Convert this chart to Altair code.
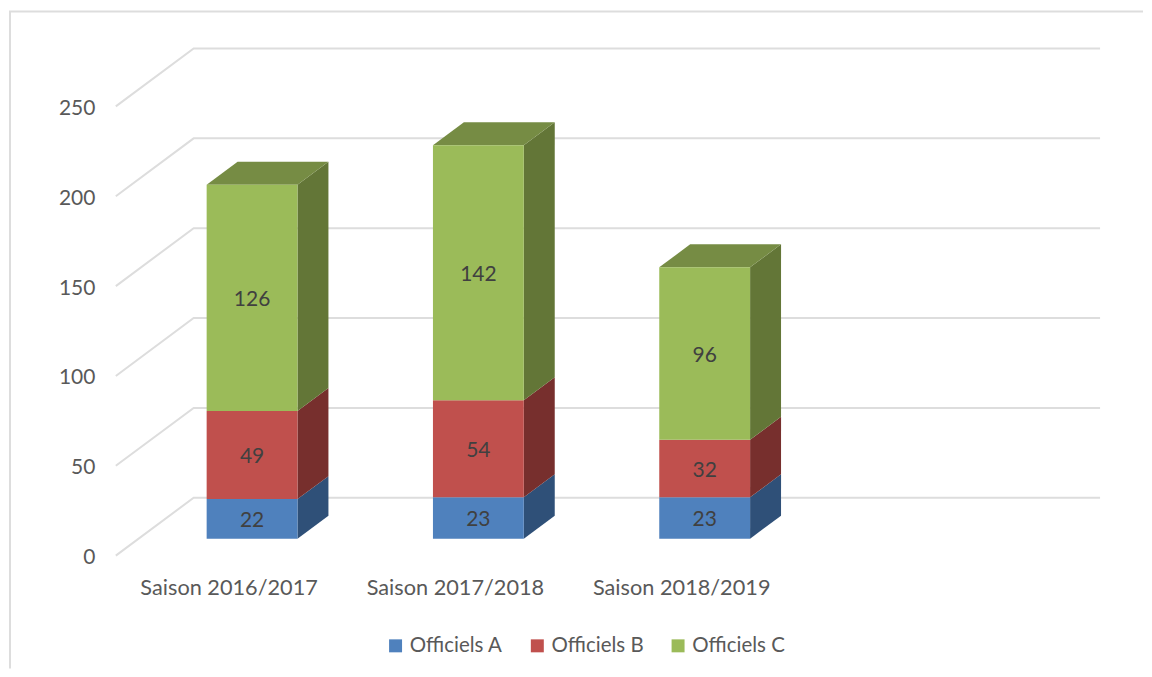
import altair as alt
import pandas as pd

# ---- values
seasons = ["Saison 2016/2017", "Saison 2017/2018", "Saison 2018/2019"]
series = ["Officiels A", "Officiels B", "Officiels C"]
officiels_a = [22, 23, 23]
officiels_b = [49, 54, 32]
officiels_c = [126, 142, 96]
y_ticks = [0, 50, 100, 150, 200, 250]

# ---- styles
front_colors = ["#4F81BD", "#C0504D", "#9BBB59"]
side_colors = ["#2F5078", "#772F2D", "#637637"]
top_color = "#768C44"
grid_color = "#DDDDDD"
font = "Lato"

W, H = 1136, 661
PX_PER_UNIT = 1.8
PX_PER_CAT = 226.7
ORIGIN_X, ORIGIN_Y = 220.0, 548.0  # chart pixel of category 0 / value 0

x_scale = alt.Scale(domain=[-ORIGIN_X / PX_PER_CAT, (W - ORIGIN_X) / PX_PER_CAT], nice=False, zero=False)
y_scale = alt.Scale(domain=[(ORIGIN_Y - H) / PX_PER_UNIT, ORIGIN_Y / PX_PER_UNIT], nice=False, zero=False)

# pseudo-3D geometry, in scale units
BAR_LEFT = -22 / PX_PER_CAT
BAR_WIDTH = 91 / PX_PER_CAT
BAR_DX = 31 / PX_PER_CAT
BAR_DY = 23 / PX_PER_UNIT
BAR_LIFT = 17 / PX_PER_UNIT
WALL_LEFT = (115 - 228) / PX_PER_CAT
WALL_DX = 78 / PX_PER_CAT
WALL_DY = 58 / PX_PER_UNIT
WALL_RIGHT = (1101 - 228) / PX_PER_CAT

# ---- tables built from the arrays
fronts, sides, tops, grids = [], [], [], []
for i, season in enumerate(seasons):
    base = BAR_LIFT
    L = i + BAR_LEFT
    R = L + BAR_WIDTH
    for s, vals in enumerate([officiels_a, officiels_b, officiels_c]):
        v = vals[i]
        top = base + v
        fronts.append(dict(season=season, serie=series[s], value=v, x=L, x2=R, y=base, y2=top,
                           xm=(L + R) / 2, ym=(base + top) / 2))
        key = f"{i}-{s}"
        sides.append(dict(key=key, fill=side_colors[s], x=R, y=base, y2=top))
        sides.append(dict(key=key, fill=side_colors[s], x=R + BAR_DX, y=base + BAR_DY, y2=top + BAR_DY))
        base = top
    tops += [
        dict(key=i, x=L, y=base, y2=base),
        dict(key=i, x=L + BAR_DX, y=base, y2=base + BAR_DY),
        dict(key=i, x=R, y=base, y2=base + BAR_DY),
        dict(key=i, x=R + BAR_DX, y=base + BAR_DY, y2=base + BAR_DY),
    ]
for t in y_ticks:
    grids += [
        dict(tick=t, x=WALL_LEFT, y=t),
        dict(tick=t, x=WALL_LEFT + WALL_DX, y=t + WALL_DY),
        dict(tick=t, x=WALL_RIGHT, y=t + WALL_DY),
    ]

fronts = pd.DataFrame(fronts)
sides = pd.DataFrame(sides)
tops = pd.DataFrame(tops)
grids = pd.DataFrame(grids)

label_js = "[" + ",".join(f"'{s}'" for s in seasons) + "][datum.value]"

x_axis = alt.Axis(
    values=[0, 1, 2], labelExpr=label_js, orient="bottom", offset=-(H - 570), title=None,
    domain=False, ticks=False, grid=False, labelPadding=0, labelFont=font, labelFontSize=21.75,
    labelColor="#595959", labelFlush=False, labelOverlap=False,
)
y_axis = alt.Axis(
    values=y_ticks, orient="left", offset=-86, title=None, domain=False, ticks=False, grid=False,
    labelPadding=0, labelFont=font, labelFontSize=21, labelColor="#595959", labelOffset=2,
)


def X(field="x:Q"):
    return alt.X(field, scale=x_scale, axis=x_axis)


def Y(field="y:Q"):
    return alt.Y(field, scale=y_scale, axis=y_axis, stack=None)


frame_top = alt.Chart(pd.DataFrame({"a": [0]})).mark_rule(color=grid_color, strokeWidth=2).encode(
    x=alt.value(0), x2=alt.value(W), y=alt.value(3))
frame_left = alt.Chart(pd.DataFrame({"a": [0]})).mark_rule(color=grid_color, strokeWidth=2).encode(
    x=alt.value(1), y=alt.value(3), y2=alt.value(H))

grid = alt.Chart(grids).mark_line(color=grid_color, strokeWidth=2).encode(
    x=X(), y=Y(), detail="tick:N",
)
side = alt.Chart(sides).mark_area().encode(
    x=X(), y=Y(), y2="y2:Q",
    fill=alt.Fill("fill:N", scale=None),
    detail="key:N",
)
top = alt.Chart(tops).mark_area(color=top_color).encode(
    x=X(), y=Y(), y2="y2:Q", detail="key:N",
)
front = alt.Chart(fronts).mark_rect().encode(
    x=X(), x2="x2:Q", y=Y(), y2="y2:Q",
    color=alt.Color(
        "serie:N",
        scale=alt.Scale(domain=series, range=front_colors),
        legend=alt.Legend(
            orient="none", legendX=377, legendY=628, direction="horizontal", title=None,
            symbolType="square", symbolSize=169, symbolStrokeWidth=0, labelFont=font,
            labelFontSize=20.5, labelColor="#595959", columnPadding=24, labelOffset=4,
        ),
    ),
)
labels = alt.Chart(fronts).mark_text(font=font, fontSize=21, color="#404040", baseline="middle", dy=2).encode(
    x=X("xm:Q"), y=Y("ym:Q"), text="value:Q",
)

chart = (
    alt.layer(frame_top, frame_left, grid, side, top, front, labels)
    .properties(width=W, height=H, padding=0, background="white")
    .configure_view(stroke=None)
)
chart.save("out.html", embed_options={"renderer": "svg", "actions": False})
